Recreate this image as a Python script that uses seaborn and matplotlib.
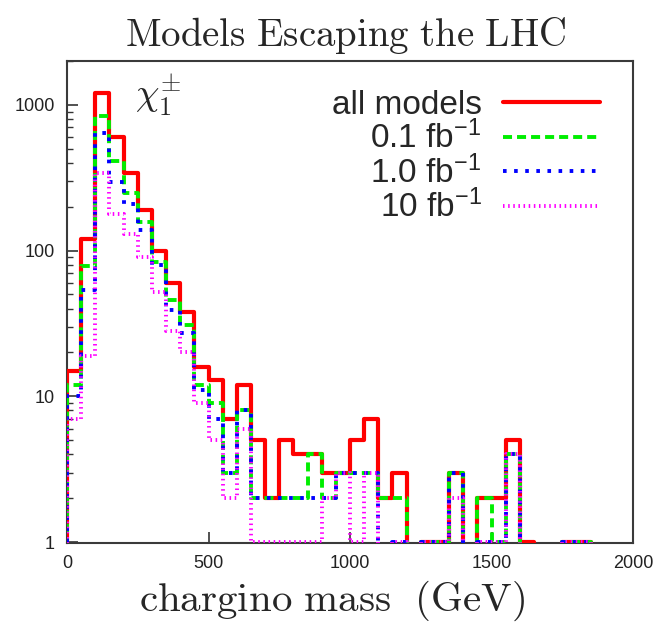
import numpy as np
import pandas as pd
import matplotlib
matplotlib.use("Agg")
import matplotlib.pyplot as plt
import seaborn as sns
from matplotlib.ticker import FixedLocator, NullFormatter, LogLocator

# 50 GeV bins from 0 to 2000 GeV: number of models per chargino-mass bin
bin_width = 50
mass_range = (0, 2000)

all_models = [15, 120, 1200, 600, 340, 190, 100, 60, 38, 16,
              13, 7, 12, 5, 2, 5, 4, 4, 3, 3,
              5, 7, 2, 3, 0, 1, 1, 3, 0, 2,
              2, 5, 1, 0, 0, 1, 1, 0, 0, 0]
lumi_0p1 = [12, 78, 840, 410, 250, 157, 84, 46, 31, 12,
            9, 3, 8, 2, 2, 2, 2, 4, 2, 3,
            3, 3, 2, 2, 0, 1, 1, 3, 0, 2,
            1, 4, 0, 0, 0, 1, 1, 0, 0, 0]
lumi_1p0 = [10, 54, 640, 295, 210, 138, 80, 39, 27, 11,
            7, 3, 8, 2, 2, 2, 2, 2, 2, 3,
            3, 3, 0, 1, 0, 1, 1, 3, 0, 1,
            1, 4, 0, 0, 0, 1, 1, 0, 0, 0]
lumi_10 = [7, 19, 340, 178, 130, 91, 52, 28, 20, 9,
           5, 2, 6, 1, 1, 1, 1, 1, 2, 3,
           1, 3, 0, 1, 0, 1, 1, 2, 0, 1,
           1, 4, 0, 0, 0, 1, 1, 0, 0, 0]

series_labels = ["all models", r"0.1 fb$^{-1}$", r"1.0 fb$^{-1}$", r"10 fb$^{-1}$"]
y_ticks = [1, 10, 100, 1000]
x_ticks = [0, 500, 1000, 1500, 2000]

sns.set_style("white")
plt.rcParams["font.family"] = ["Liberation Sans", "DejaVu Sans"]
plt.rcParams["mathtext.fontset"] = "custom"
plt.rcParams["mathtext.rm"] = "Liberation Sans"
plt.rcParams["mathtext.it"] = "Liberation Sans:italic"
plt.rcParams["mathtext.sf"] = "Liberation Sans"
plt.rcParams["lines.scale_dashes"] = False

fig = plt.figure(figsize=(6.58, 6.30), dpi=100)
ax = fig.add_axes([67 / 658, 87 / 630, 566 / 658, 482 / 630])
ax.set_yscale("log")

# one empty bin on each side so every outline rises from / drops to the floor
centers = np.arange(mass_range[0] - bin_width / 2, mass_range[1] + bin_width, bin_width)

styles = [
    dict(color="#ff0000", linewidth=3.0, linestyle="-"),
    dict(color="#00ee00", linewidth=2.8, linestyle=(0, (6.5, 3.6))),
    dict(color="#0000ff", linewidth=2.8, linestyle=(0, (2.6, 5.4))),
    dict(color="#ff00ff", linewidth=2.8, linestyle=(0, (1.1, 2.6))),
]
for counts, label, st in zip([all_models, lumi_0p1, lumi_1p0, lumi_10],
                             series_labels, styles):
    df = pd.DataFrame({"mass": centers,
                       "models": np.concatenate([[0], counts, [0]]).astype(float)})
    sns.histplot(data=df, x="mass", weights="models", binwidth=bin_width,
                 binrange=(mass_range[0] - bin_width, mass_range[1] + bin_width),
                 element="step", fill=False, ax=ax, label=label, zorder=3, **st)

ax.set_xlim(*mass_range)
ax.set_ylim(0.985, 2000)
ax.set_xlabel("")
ax.set_ylabel("")

ax.xaxis.set_major_locator(FixedLocator(x_ticks))
ax.set_xticklabels([str(t) for t in x_ticks])
ax.yaxis.set_major_locator(FixedLocator(y_ticks))
ax.set_yticklabels([str(t) for t in y_ticks])
ax.yaxis.set_minor_locator(LogLocator(base=10, subs=np.arange(2, 10)))
ax.yaxis.set_minor_formatter(NullFormatter())
ax.tick_params(axis="both", which="major", direction="in", length=8, width=1.2,
               labelsize=13, pad=9, colors="#333333", labelcolor="#222222",
               left=True, bottom=True, top=False, right=False)
ax.tick_params(axis="y", which="minor", direction="in", length=4.5, width=1.0,
               colors="#333333", left=True, right=False)
ax.tick_params(axis="x", which="minor", bottom=False, top=False)
for sp in ax.spines.values():
    sp.set_visible(True)
    sp.set_linewidth(1.5)
    sp.set_color("#3a3a3a")

handles, labels = ax.get_legend_handles_labels()
ax.legend(handles, labels, loc="upper right", markerfirst=False, frameon=False,
          fontsize=24, handlelength=2.9, handletextpad=0.65, labelspacing=0.0,
          borderpad=0, borderaxespad=0,
          bbox_to_anchor=(600 / 658, 1 - 90 / 630), bbox_transform=fig.transFigure)

ax.text(0.12, 0.905, r"$\chi_1^{\pm}$", transform=ax.transAxes, fontsize=27,
        math_fontfamily="cm", ha="left", va="baseline")

fig.text(0.525, 1 - 46 / 630, r"$\mathrm{Models\ Escaping\ the\ LHC}$",
         math_fontfamily="cm", fontsize=28, ha="center", va="baseline")
fig.text(0.504, 1 - 611 / 630, r"$\mathrm{chargino\ mass\ \ (GeV)}$",
         math_fontfamily="cm", fontsize=29.5, ha="center", va="baseline")

fig.savefig("out.png", dpi=100)
